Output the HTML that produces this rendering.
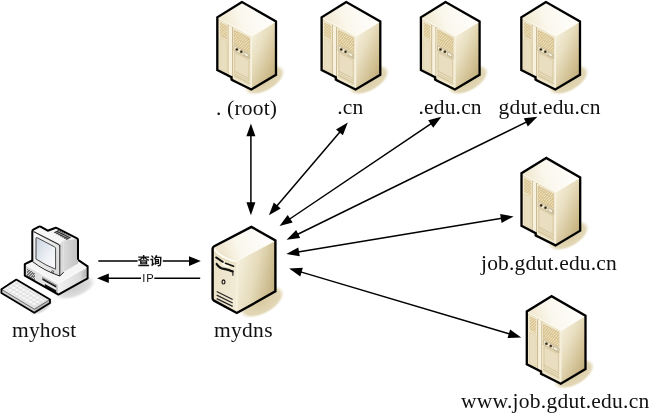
<!DOCTYPE html>
<html><head><meta charset="utf-8"><title>DNS</title>
<style>
html,body{margin:0;padding:0;background:#fff;}
body{width:650px;height:415px;overflow:hidden;}
svg{display:block;}
svg text{font-family:"Liberation Serif",serif;font-size:21.5px;fill:#111;}
.lbl{filter:grayscale(1);}
</style></head><body>
<svg width="650" height="415" viewBox="0 0 650 415">

<defs>
  <linearGradient id="gTop" x1="0" y1="0.6" x2="1" y2="0.4"><stop offset="0" stop-color="#eee4c8"/><stop offset="0.4" stop-color="#faf7ec"/><stop offset="1" stop-color="#ffffff"/></linearGradient>
  <linearGradient id="gFront" x1="0" y1="0" x2="1" y2="0"><stop offset="0" stop-color="#e1d4af"/><stop offset="1" stop-color="#e9debd"/></linearGradient>
  <linearGradient id="gRight" x1="0.1" y1="0" x2="0.9" y2="1"><stop offset="0" stop-color="#f7f2e1"/><stop offset="0.35" stop-color="#e9dfc1"/><stop offset="0.7" stop-color="#d2c194"/><stop offset="1" stop-color="#b9a46f"/></linearGradient>
  <radialGradient id="shad"><stop offset="0" stop-color="#d9cba2"/><stop offset="0.8" stop-color="#e2d7b6"/><stop offset="1" stop-color="#eee7d0" stop-opacity="0"/></radialGradient>
  <radialGradient id="gshad"><stop offset="0" stop-color="#cccccc"/><stop offset="0.7" stop-color="#dddddd"/><stop offset="1" stop-color="#f0f0f0" stop-opacity="0"/></radialGradient>
  <pattern id="vent" width="4" height="1.7" patternUnits="userSpaceOnUse" patternTransform="skewY(29)"><rect width="4" height="1.7" fill="#efe5c8"/><rect y="0" width="4" height="0.75" fill="#c4ae7c"/></pattern>
  <pattern id="gvent" width="4" height="1.5" patternUnits="userSpaceOnUse" patternTransform="skewY(29)"><rect width="4" height="1.5" fill="#d0d0d0"/><rect y="0" width="4" height="0.7" fill="#555"/></pattern>
  <pattern id="tvent" width="1.6" height="4" patternUnits="userSpaceOnUse" patternTransform="skewX(63)"><rect width="1.6" height="4" fill="#bbb"/><rect width="0.8" height="4" fill="#333"/></pattern>
  <pattern id="keys" width="3.4" height="3.4" patternUnits="userSpaceOnUse" patternTransform="matrix(1 0.58 -1 0.64 0 0)"><rect width="3.4" height="3.4" fill="#d4d4d4"/><rect x="0.4" y="0.4" width="2.7" height="2.7" fill="#fbfbfb"/></pattern>
  <linearGradient id="tTop" x1="0" y1="0.6" x2="1" y2="0.4"><stop offset="0" stop-color="#ebe0c3"/><stop offset="0.4" stop-color="#faf7ec"/><stop offset="1" stop-color="#ffffff"/></linearGradient>
  <linearGradient id="tFront" x1="0" y1="0" x2="1" y2="0.3"><stop offset="0" stop-color="#eae0c4"/><stop offset="1" stop-color="#f1ead4"/></linearGradient>
  <linearGradient id="tRight" x1="0" y1="0.3" x2="1" y2="0.7"><stop offset="0" stop-color="#f5f0de"/><stop offset="0.45" stop-color="#e6dcbc"/><stop offset="1" stop-color="#c1ad7b"/></linearGradient>
  <linearGradient id="bPatch" x1="0" y1="0" x2="1" y2="0"><stop offset="0" stop-color="#dcdcdc"/><stop offset="1" stop-color="#b4b4b4"/></linearGradient>
  <linearGradient id="bFront" x1="0" y1="0" x2="1" y2="0"><stop offset="0" stop-color="#d9d9d9"/><stop offset="1" stop-color="#ededed"/></linearGradient>
  <linearGradient id="bRight" x1="0" y1="0" x2="1" y2="0"><stop offset="0" stop-color="#f2f2f2"/><stop offset="1" stop-color="#d2d2d2"/></linearGradient>
  <linearGradient id="mSide" x1="0" y1="0" x2="1" y2="0"><stop offset="0" stop-color="#f3f3f3"/><stop offset="0.5" stop-color="#dcdcdc"/><stop offset="1" stop-color="#c2c2c2"/></linearGradient>
  <linearGradient id="mFront" x1="0" y1="0" x2="1" y2="1"><stop offset="0" stop-color="#fafafa"/><stop offset="1" stop-color="#d8d8d8"/></linearGradient>
  <linearGradient id="scr" x1="0" y1="0" x2="1" y2="1"><stop offset="0" stop-color="#c9d3df"/><stop offset="0.6" stop-color="#eef1f6"/><stop offset="1" stop-color="#fbfcfd"/></linearGradient>
  <linearGradient id="kTop" x1="0" y1="0" x2="1" y2="1"><stop offset="0" stop-color="#f0f0f0"/><stop offset="1" stop-color="#dcdcdc"/></linearGradient>
</defs>

<rect width="650" height="415" fill="#fff"/>
<defs>
<g id="srv">
  <!-- shadow -->
  <ellipse cx="264.5" cy="80" rx="23" ry="11.5" fill="url(#shad)" transform="rotate(-30 264.5 80)"/>
  <!-- top face -->
  <path d="M242 2 L217.3 17.3 L251.5 36.2 L276 21.5 Z" fill="url(#gTop)"/>
  <!-- front face -->
  <path d="M217.3 17.3 L217.3 70 L231.5 77.2 L231.5 79.6 L234 80.9 L251.3 89.5 L251.5 36.2 Z" fill="url(#gFront)"/>
  <!-- right face -->
  <path d="M251.5 36.2 L251.3 89.5 L276 74.8 L276 21.5 Z" fill="url(#gRight)"/>
  <!-- left door -->
  <path d="M219.30 20.64 L227.50 24.90 L227.50 74.60 L219.30 70.34 Z" fill="#e9debf" stroke="#f7f1de" stroke-width="0.8"/>
  <path d="M220.00 22.30 L226.60 25.74 L226.60 39.44 L220.00 36.00 Z" fill="#ecdfbc"/>
  <path d="M220.00 23.07 L226.60 26.50 M220.00 24.59 L226.60 28.02 M220.00 26.11 L226.60 29.54 M220.00 27.63 L226.60 31.06 M220.00 29.15 L226.60 32.59 M220.00 30.68 L226.60 34.11 M220.00 32.20 L226.60 35.63 M220.00 33.72 L226.60 37.15 M220.00 35.24 L226.60 38.67" stroke="#d6bc88" stroke-width="0.7" fill="none" shape-rendering="crispEdges"/>
  <path d="M220.00 38.00 L226.80 41.54 L226.80 72.54 L220.00 69.00 Z" fill="none" stroke="#dfd2ad" stroke-width="0.6"/>
  <!-- grooves + pillar -->
  <path d="M228.10 25.02 L228.10 77.02" stroke="#c8b689" stroke-width="0.9" fill="none"/>
  <path d="M228.70 25.13 L232.00 26.84 L232.00 80.04 L228.70 78.33 Z" fill="#f7f1de"/>
  <path d="M232.50 27.30 L232.50 81.50" stroke="#b9a677" stroke-width="0.9" fill="none"/>
  <!-- right door -->
  <path d="M233.20 28.07 L250.30 36.96 L250.30 86.76 L233.20 77.87 Z" fill="#e7dcbb" stroke="#f7f1de" stroke-width="0.8"/>
  <path d="M233.90 30.23 L249.50 38.34 L249.50 52.44 L233.90 44.33 Z" fill="#ecdfbc" stroke="#d4c49b" stroke-width="0.5"/>
  <path d="M233.90 30.94 L249.50 39.05 M233.90 32.35 L249.50 40.46 M233.90 33.76 L249.50 41.87 M233.90 35.17 L249.50 43.28 M233.90 36.58 L249.50 44.69 M233.90 37.99 L249.50 46.10 M233.90 39.40 L249.50 47.51 M233.90 40.81 L249.50 48.92 M233.90 42.22 L249.50 50.33 M233.90 43.63 L249.50 51.74" stroke="#d6bc88" stroke-width="0.7" fill="none" shape-rendering="crispEdges"/>
  <!-- control strip -->
  <path d="M233.90 45.53 L249.50 53.64 L249.50 58.64 L233.90 50.53 Z" fill="#f1e9d0" stroke="#b5a273" stroke-width="0.6"/>
  <circle cx="236.9" cy="49.5" r="1.3" fill="#2a2418" stroke="#8c7c55" stroke-width="0.5"/>
  <circle cx="241.3" cy="51.8" r="1.3" fill="#2a2418" stroke="#8c7c55" stroke-width="0.5"/>
  <path d="M243.90 52.03 L248.30 54.32 L248.30 57.32 L243.90 55.03 Z" fill="#f6f0dc" stroke="#9d8b60" stroke-width="0.5"/>
  <!-- lower door panel -->
  <path d="M234.60 52.60 L248.90 60.03 L248.90 80.83 L234.60 73.40 Z" fill="#e9dec0" stroke="#d3c39a" stroke-width="0.7"/>
  <path d="M234.60 71.20 L248.90 78.63" stroke="#cbb98d" stroke-width="0.7"/>
  <path d="M233.60 75.08 L250.00 83.60" stroke="#c3b082" stroke-width="0.7"/>
  <!-- edge highlights -->
  <path d="M251.5 36.2 L251.3 89" stroke="#f8f2e0" stroke-width="1.2"/>
  <path d="M217.3 17.8 L251.5 36.2 L276 21.5" stroke="#fffdf5" stroke-width="1" fill="none"/>
  <!-- outline -->
  <path d="M242 2 L217.3 17.3 L217.3 70 L231.5 77.2 L231.5 79.6 L234 80.9 L251.3 89.5 L276 74.8 L276 21.5 Z" fill="none" stroke="#000" stroke-width="2.3" stroke-linejoin="miter"/>
</g>

<g id="tower">
  <ellipse cx="262" cy="302" rx="25" ry="12.5" fill="url(#shad)" transform="rotate(-29 262 302)"/>
  <path d="M251.4 226.9 L212.6 247 L237.4 260.2 L275.4 240.4 Z" fill="url(#tTop)"/>
  <path d="M212.6 247 L212.6 299.6 L236.8 313 L237.4 260.2 Z" fill="url(#tFront)"/>
  <path d="M237.4 260.2 L236.8 313 L275.4 291.4 L275.4 240.4 Z" fill="url(#tRight)"/>
  <!-- bezel curve -->
  <path d="M214 249.2 Q222 258.6 236.6 261.4" stroke="#fdfbf2" stroke-width="2" fill="none"/>
  <path d="M214 252 Q222 260.6 236.4 263.6" stroke="#e2d6b3" stroke-width="0.8" fill="none"/>
  <!-- drive tray -->
  <path d="M216.1 257.4 L222.9 262" stroke="#111" stroke-width="1.9" fill="none" stroke-linecap="round"/>
  <path d="M225.6 263.3 L233.6 266.2" stroke="#111" stroke-width="1.7" fill="none" stroke-linecap="round"/>
  <path d="M222.4 262.8 Q224.2 266.2 229 266.6" stroke="#fffdf6" stroke-width="1.6" fill="none"/>
  <path d="M216.7 264 Q219.6 268.2 224 268.9 T232.6 271.4" stroke="#111" stroke-width="2.2" fill="none" stroke-linecap="round"/>
  <path d="M232.9 270.6 L232.9 275.8" stroke="#111" stroke-width="1.1" fill="none"/>
  <!-- button -->
  <ellipse cx="223.5" cy="281.9" rx="1.45" ry="2.1" fill="#efe7cf" stroke="#1a1a1a" stroke-width="1.2"/>
  <!-- vents -->
  <path d="M216.7 291.5 L232.7 299.5 M216.7 295.1 L232.7 303 M216.7 298.6 L232.7 306.4" stroke="#2a2a2a" stroke-width="1.3" fill="none"/>
  <path d="M237.4 261 L236.9 312.3" stroke="#f8f2e0" stroke-width="1.2"/>
  <path d="M237.4 260.4 L275.4 240.6" stroke="#fffdf5" stroke-width="1" fill="none"/>
  <path d="M251.4 226.9 L214.2 246.2 Q212.6 247 212.6 248.8 L212.6 298.2 Q212.6 299.8 214 300.6 L236.8 313 L275.4 291.4 L275.4 240.4 Z" fill="none" stroke="#000" stroke-width="2.4" stroke-linejoin="miter"/>
</g>

<g id="pc">
  <!-- shadow -->
  <ellipse cx="75" cy="288" rx="23" ry="10" fill="url(#gshad)" transform="rotate(-22 75 288)"/>
  <ellipse cx="41" cy="307" rx="14" ry="6" fill="url(#gshad)" transform="rotate(-30 41 307)"/>
  <!-- base -->
  <path d="M32.2 260.5 L24.8 264.2 L58.4 282.9 L87.6 266.3 L78 259.9 Z" fill="#f5f5f5"/>
  <path d="M24.8 264.2 L24.8 275.6 L58.4 294.6 L58.4 282.9 Z" fill="url(#bFront)"/>
  <path d="M58.4 282.9 L58.4 294.6 L87.6 278.4 L87.6 266.3 Z" fill="url(#bRight)"/>
  <!-- base grille -->
  <path d="M27.4 268.8 L34.6 272.9 L34.6 280.2 L27.4 276.1 Z" fill="#cfcfcf"/>
  <path d="M27.4 269.6 L34.6 273.7 M27.4 271.1 L34.6 275.2 M27.4 272.6 L34.6 276.7 M27.4 274.1 L34.6 278.2 M27.4 275.6 L34.6 279.7" stroke="#4a4a4a" stroke-width="0.7" fill="none" shape-rendering="crispEdges"/>
  <!-- drive slots -->
  <path d="M42.4 278 L56.2 285.7 L56.2 287.7 L42.4 280 Z" fill="#1c1c1c"/>
  <path d="M44.8 283.9 L56.2 290.2 L56.2 293 L44.8 286.7 Z" fill="#111"/>
  <path d="M42 277 L57 285.3 L57 293.6" fill="none" stroke="#666" stroke-width="0.6"/>
  <path d="M80.2 272.6 L85.6 269.6 L85.6 276.8 L80.2 279.8 Z" fill="url(#bPatch)"/>
  <path d="M25.4 264.8 L58.4 283.1 L87 266.9" stroke="#fff" stroke-width="1" fill="none"/>
  <path d="M32.2 260.5 L24.8 264.2 L24.8 275.6 L58.4 294.6 L87.6 278.4 L87.6 266.3 L78 259.9" fill="none" stroke="#000" stroke-width="2" stroke-linejoin="round"/>
  <!-- monitor housing -->
  <path d="M55.9 227.8 L47.7 230.7 L63.6 241 L63.6 272 L78 263.4 L78 239 Z" fill="url(#mSide)"/>
  <path d="M55.9 227.8 L47.7 230.7 L63.6 240.6 L77.6 238.9 Z" fill="#f6f6f6"/>
  <path d="M53.6 232.2 L58.2 230 L71.6 237.2 L67.4 240.2 Z" fill="#a8a8a8"/><path d="M54.5 232.7 L59.1 230.5 M56.4 233.8 L61 231.6 M58.3 234.9 L62.9 232.7 M60.2 236 L64.8 233.8 M62.1 237.1 L66.7 234.9 M64 238.2 L68.6 236 M65.9 239.3 L70.5 237.1" stroke="#262626" stroke-width="1.05" fill="none"/>
  <!-- bezel top & side -->
  <path d="M32.5 230.2 L40 226.3 L47.7 230.7 L63.6 240.6 L59.8 244.3 Z" fill="#f7f7f7"/>
  <path d="M59.8 244.3 L63.6 240.6 L63.6 272 L59.8 276 Z" fill="#d9d9d9"/>
  <!-- bezel front -->
  <path d="M32.3 231.6 Q32.3 230 33.8 230.8 L58.6 243.7 Q59.8 244.3 59.8 245.8 L59.8 276 L32.3 261.4 Z" fill="url(#mFront)"/>
  <!-- screen -->
  <path d="M36 238.4 Q35.8 237 37.4 237.8 L54.6 246.9 Q55.6 247.5 55.6 248.8 L55.6 269.2 Q46 265.6 36 259 Z" fill="url(#scr)" stroke="#333" stroke-width="0.9"/>
  <circle cx="52.6" cy="271.7" r="1.05" fill="#ddd" stroke="#222" stroke-width="0.7"/>
  <!-- monitor outline -->
  <path d="M32.3 261.4 L32.3 231.4 Q32.3 230.2 33.3 229.7 L39 226.7 Q40 226.2 41 226.8 L47.7 230.7 L55 228 Q55.9 227.6 57 228.2 L77 238.4 Q78 239 78 240 L78 259.8" fill="none" stroke="#000" stroke-width="2" stroke-linejoin="round"/>
  <path d="M32.3 261.4 Q44 270.6 59.8 276 L59.8 245.5 M59.8 276 L63.8 272.2" fill="none" stroke="#222" stroke-width="1"/>
  <path d="M33.4 231.4 L58.8 244.6 Q59.8 245.2 59.8 246.4" fill="none" stroke="#2a2a2a" stroke-width="1.1"/>
  <!-- keyboard -->
  <path d="M16.3 279.6 L1.4 289.3 L34.3 309.2 L50 299.5 Z" fill="url(#kTop)"/>
  <path d="M1.4 289.3 L1.4 292.9 L34.3 312.8 L34.3 309.2 Z" fill="#cfcfcf"/>
  <path d="M34.3 309.2 L34.3 312.8 L50 303.1 L50 299.5 Z" fill="#b5b5b5"/>
  <path d="M5 289.3 L16.3 282 L46.4 299.5 L34.3 306.9 Z" fill="url(#keys)"/>
  <path d="M1.4 289.3 L34.3 309.2 L50 299.5" fill="none" stroke="#444" stroke-width="0.7"/>
  <path d="M16.3 279.6 L1.4 289.3 L1.4 292.9 L34.3 312.8 L50 303.1 L50 299.5 Z" fill="none" stroke="#000" stroke-width="1.8" stroke-linejoin="round"/>
</g>
</defs>
<use href="#srv" transform="translate(0 0)"/><use href="#srv" transform="translate(104.3 0)"/><use href="#srv" transform="translate(203.6 0)"/><use href="#srv" transform="translate(304 0)"/><use href="#srv" transform="translate(304.2 155.9)"/><use href="#srv" transform="translate(309.5 294.2)"/>
<use href="#tower"/>
<use href="#pc"/>
<path d="M250.90 135.30 L250.90 203.30" stroke="#000" stroke-width="1.5" fill="none"/>
<path d="M250.90 215.20 L246.40 202.30 L255.40 202.30 Z" fill="#000"/>
<path d="M250.90 123.40 L246.40 136.30 L255.40 136.30 Z" fill="#000"/><path d="M340.09 131.66 L276.61 206.24" stroke="#000" stroke-width="1.5" fill="none"/>
<path d="M268.90 215.30 L273.83 202.56 L280.69 208.39 Z" fill="#000"/>
<path d="M347.80 122.60 L336.01 129.51 L342.87 135.34 Z" fill="#000"/><path d="M431.53 123.35 L289.37 219.25" stroke="#000" stroke-width="1.5" fill="none"/>
<path d="M279.50 225.90 L287.68 214.96 L292.71 222.42 Z" fill="#000"/>
<path d="M441.40 116.70 L428.19 120.18 L433.22 127.64 Z" fill="#000"/><path d="M526.72 121.94 L297.28 234.46" stroke="#000" stroke-width="1.5" fill="none"/>
<path d="M286.60 239.70 L296.20 229.98 L300.16 238.06 Z" fill="#000"/>
<path d="M537.40 116.70 L523.84 118.34 L527.80 126.42 Z" fill="#000"/><path d="M501.86 218.34 L298.04 252.06" stroke="#000" stroke-width="1.5" fill="none"/>
<path d="M286.30 254.00 L298.29 247.46 L299.76 256.33 Z" fill="#000"/>
<path d="M513.60 216.40 L500.14 214.07 L501.61 222.94 Z" fill="#000"/><path d="M509.79 334.01 L300.61 271.89" stroke="#000" stroke-width="1.5" fill="none"/>
<path d="M289.20 268.50 L302.85 267.86 L300.29 276.49 Z" fill="#000"/>
<path d="M521.20 337.40 L510.11 329.41 L507.55 338.04 Z" fill="#000"/>
<g class="lbl"><path d="M98.3 261.1 L137.6 261.1 M162.8 261.1 L190 261.1" stroke="#000" stroke-width="1.5" fill="none"/><path d="M200.8 261.1 L189 256.3 L189 265.9 Z" fill="#000"/><path d="M108 278.3 L141 278.3 M154.3 278.3 L200.2 278.3" stroke="#000" stroke-width="1.5" fill="none"/><path d="M97 278.3 L108.8 273.5 L108.8 283.1 Z" fill="#000"/><g fill="#111" transform="translate(137.6 265.4) scale(0.0122 -0.0122)"><path d="M324 220H662V169H324ZM324 346H662V296H324ZM61 44V-61H940V44ZM437 850V738H53V634H321C244 557 135 491 24 455C49 432 84 388 101 360C136 374 171 391 205 410V90H788V417C823 397 859 381 896 367C912 397 948 442 974 465C861 499 749 560 669 634H949V738H556V850ZM230 425C309 474 380 535 437 605V454H556V606C616 535 691 473 773 425Z"/><path transform="translate(1010 0)" d="M83 764C132 713 195 642 224 596L311 674C281 719 214 785 165 832ZM34 542V427H154V126C154 80 124 45 102 30C122 7 151 -44 161 -72C178 -48 211 -19 393 123C381 146 362 193 354 225L270 161V542ZM487 850C447 730 375 609 295 535C323 516 373 475 395 453L407 466V57H516V112H745V526H455C472 549 488 573 504 599H829C819 228 807 79 779 47C768 33 757 28 739 28C715 28 665 29 610 34C630 1 646 -50 648 -82C702 -84 758 -85 793 -79C832 -73 858 -61 884 -23C923 29 935 191 947 651C948 666 948 707 948 707H563C580 743 596 780 609 817ZM640 273V208H516V273ZM640 364H516V431H640Z"/></g><text x="148.5" y="282.2" text-anchor="middle" style="font-family:'Liberation Sans',sans-serif;font-size:11.2px;letter-spacing:1px" fill="#111">IP</text>
<text x="215.9" y="114.5" text-anchor="start" letter-spacing="0.2">. (root)</text><text x="337.2" y="114.4" text-anchor="start" letter-spacing="0.2">.cn</text><text x="418.6" y="113.8" text-anchor="start" letter-spacing="0.15">.edu.cn</text><text x="498.6" y="113.8" text-anchor="start" letter-spacing="0.16">gdut.edu.cn</text><text x="481.0" y="269.7" text-anchor="start" letter-spacing="0.19">job.gdut.edu.cn</text><text x="461.0" y="408.3" text-anchor="start" letter-spacing="0.25">www.job.gdut.edu.cn</text><text x="12.0" y="337.4" text-anchor="start" letter-spacing="0.2">myhost</text><text x="214.0" y="337.4" text-anchor="start" letter-spacing="0.3">mydns</text></g>
</svg>
</body></html>
